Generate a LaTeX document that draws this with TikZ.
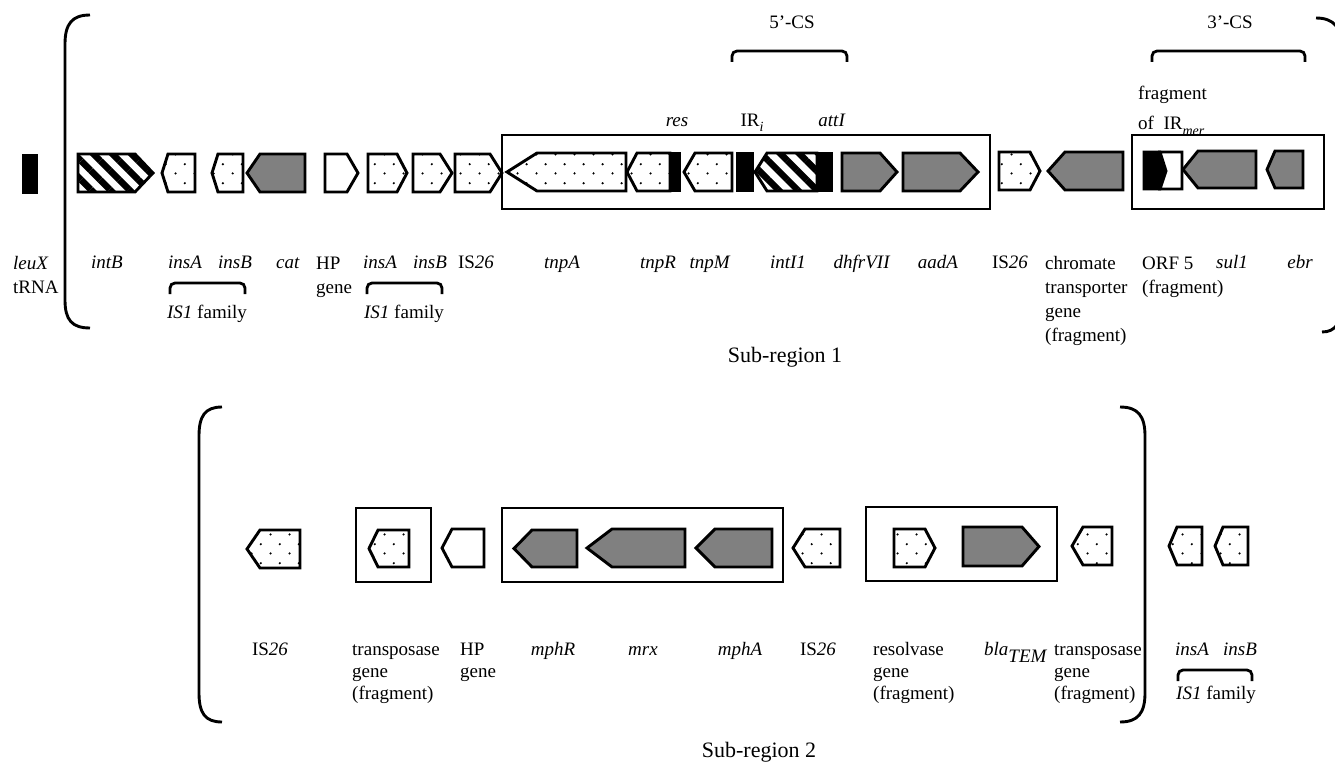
\documentclass[tikz,border=0pt]{standalone}
\usepackage{fontspec}
\setmainfont{Liberation Serif}
\usepackage{tikz}
\usetikzlibrary{patterns, patterns.meta}

\definecolor{genegray}{RGB}{128,128,128}

\tikzdeclarepattern{
  name=sparsedots,
  type=uncolored,
  bounding box={(0pt,0pt) and (19pt,19pt)},
  tile size={(19pt,19pt)},
  code={
    \fill (4.75pt,4.75pt) circle (1.25pt);
    \fill (14.25pt,14.25pt) circle (1.25pt);
  }
}

% gene arrows: style, left/tip, tip start, right/tip, top, bottom
\newcommand{\genR}[6]{\draw[#1] (#2,#5) -- (#3,#5) -- (#4,{(#5+#6)/2}) -- (#3,#6) -- (#2,#6) -- cycle;}
\newcommand{\genL}[6]{\draw[#1] (#2,{(#5+#6)/2}) -- (#3,#5) -- (#4,#5) -- (#4,#6) -- (#3,#6) -- cycle;}
\newcommand{\smallbrace}[3]{\draw[braceline] (#1,{#3+11}) -- (#1,#3) -- (#2,#3) -- (#2,{#3+11});}

\begin{document}
\begin{tikzpicture}[
    x=1pt, y=-1pt,
    lbl/.style={font=\fontsize{19}{24}\selectfont, inner sep=0pt, anchor=base},
    lblb/.style={font=\fontsize{19}{22}\selectfont, inner sep=0pt, anchor=base},
    sublbl/.style={font=\fontsize{22}{26}\selectfont, inner sep=0pt, anchor=base},
    genebase/.style={draw, line width=2.9pt, line join=miter},
    dotgene/.style={genebase, pattern=sparsedots},
    hatchgene/.style={genebase, pattern={Lines[angle=-45, distance=13.5pt, line width=6.5pt]}},
    graygene/.style={genebase, fill=genegray},
    whitegene/.style={genebase, fill=white},
    barblack/.style={genebase, fill=black},
    genebox/.style={draw, line width=2.8pt},
    braceline/.style={draw, line width=2.8pt, rounded corners=5pt},
    bigbracket/.style={draw, line width=2.9pt}
]

\fill[white] (0,0) rectangle (1335,767);
\useasboundingbox (0,0) rectangle (1335,767);

% Sub-region 1: brackets
\draw[bigbracket] (90,15) .. controls (72,15) and (65,24) .. (65,44) -- (65,300) .. controls (65,320) and (72,328) .. (90,328);
\draw[bigbracket] (1316,18) .. controls (1334,18) and (1342,28) .. (1342,48) -- (1342,302) .. controls (1342,322) and (1336,332) .. (1322,332);

% Sub-region 1: boxes
\draw[genebox] (502,135) rectangle (990,209);
\draw[genebox] (1132,135) rectangle (1324,209);

% Sub-region 1: genes
\draw[barblack] (23,155) rectangle (37,193);
\genR{hatchgene}{78}{135}{153}{154}{192}
\genL{dotgene}{162}{168}{195}{154}{192}
\genL{dotgene}{212}{218}{243}{154}{192}
\genL{graygene}{247}{260}{305}{154}{192}
\genR{whitegene}{325}{347}{358}{154}{192}
\genR{dotgene}{368}{397}{407}{154}{192}
\genR{dotgene}{413}{440}{452}{154}{192}
\genR{dotgene}{455}{490}{502}{154}{192}
\genL{dotgene}{507}{537}{626}{153}{191}
\genL{dotgene}{627}{637}{670}{153}{191}
\draw[barblack] (670,153) rectangle (680,191);
\genL{dotgene}{684}{695}{732}{153}{191}
\draw[barblack] (737,153) rectangle (753,191);
\genL{hatchgene}{755}{767}{817}{153}{191}
\draw[barblack] (817,153) rectangle (832,191);
\genR{graygene}{842}{880}{897}{153}{191}
\genR{graygene}{903}{960}{978}{153}{191}
\genR{dotgene}{999}{1030}{1040}{152}{190}
\genL{graygene}{1048}{1065}{1123}{152}{190}
\draw[barblack] (1144,152) -- (1160,152) -- (1166,171) -- (1160,189) -- (1144,189) -- cycle;
\draw[whitegene] (1160,152) -- (1182,152) -- (1182,189) -- (1160,189) -- (1166,171) -- cycle;
\genL{graygene}{1183}{1198}{1256}{151}{188}
\genL{graygene}{1267}{1275}{1303}{151}{188}

% Sub-region 1: braces
\smallbrace{170}{245}{283}
\smallbrace{367}{442}{283}
\smallbrace{732}{847}{51}
\smallbrace{1152}{1305}{51}

% Sub-region 1: labels (multi-line ones sit on their last line)
\node[lbl, anchor=base west, align=left] (leux) at (13,293) {\textit{leuX}\\tRNA};
\node[lbl] (intb) at (107,269) {\textit{intB}};
\node[lbl] (insa1) at (185,269) {\textit{insA}};
\node[lbl] (insb1) at (235,269) {\textit{insB}};
\node[lbl] (cat) at (288,269) {\textit{cat}};
\node[lbl, anchor=base west, align=left] (hp1) at (316,293) {HP\\gene};
\node[lbl] (insa2) at (380,269) {\textit{insA}};
\node[lbl] (insb2) at (430,269) {\textit{insB}};
\node[lbl] (isa) at (476,269) {IS\textit{26}};
\node[lbl] (tnpa) at (562,269) {\textit{tnpA}};
\node[lbl] (tnpr) at (658,269) {\textit{tnpR}};
\node[lbl] (tnpm) at (710,269) {\textit{tnpM}};
\node[lbl] (inti) at (788,269) {\textit{intI1}};
\node[lbl] (dhfr) at (862,269) {\textit{dhfrVII}};
\node[lbl] (aada) at (938,269) {\textit{aadA}};
\node[lbl] (isb) at (1010,269) {IS\textit{26}};
\node[lbl, anchor=base west, align=left] (chrom) at (1045,341) {chromate\\transporter\\gene\\(fragment)};
\node[lbl, anchor=base west, align=left] (orf) at (1142,293) {ORF 5\\(fragment)};
\node[lbl] (sul) at (1232,269) {\textit{sul1}};
\node[lbl] (ebr) at (1300,269) {\textit{ebr}};
\node[lbl] (fam1) at (207,318) {\textit{IS1} family};
\node[lbl] (fam2) at (404,318) {\textit{IS1} family};
\node[lbl] (res) at (677,127) {\textit{res}};
\node[lbl] (iri) at (752,127) {IR\raisebox{-5pt}{\fontsize{14}{14}\selectfont\itshape i}};
\node[lbl] (att) at (832,127) {\textit{attI}};
\node[lbl, anchor=base west, align=left] (frag) at (1138,130) {fragment\\[6pt]of\ \ IR\raisebox{-6pt}{\fontsize{14}{14}\selectfont\itshape mer}};
\node[lbl] (cs5) at (792,29) {5’-CS};
\node[lbl] (cs3) at (1230,29) {3’-CS};
\node[sublbl] (sub1) at (785,362) {Sub-region 1};

% Sub-region 2: brackets
\draw[bigbracket] (222,407) .. controls (205,407) and (199,416) .. (199,436) -- (199,693) .. controls (199,713) and (205,722) .. (222,722);
\draw[bigbracket] (1120,407) .. controls (1138,407) and (1145,416) .. (1145,436) -- (1145,693) .. controls (1145,713) and (1138,722) .. (1120,722);

% Sub-region 2: boxes
\draw[genebox] (356,508) rectangle (431,582);
\draw[genebox] (502,508) rectangle (783,582);
\draw[genebox] (866,507) rectangle (1057,581);

% Sub-region 2: genes
\genL{dotgene}{247}{260}{300}{530}{568}
\genL{dotgene}{369}{378}{409}{530}{567}
\genL{whitegene}{442}{452}{484}{529}{567}
\genL{graygene}{514}{532}{577}{530}{567}
\genL{graygene}{587}{612}{685}{529}{567}
\genL{graygene}{696}{715}{772}{529}{567}
\genL{dotgene}{793}{805}{840}{529}{567}
\genR{dotgene}{894}{925}{935}{529}{567}
\genR{graygene}{963}{1022}{1039}{527}{566}
\genL{dotgene}{1072}{1083}{1112}{527}{565}
\genL{dotgene}{1169}{1177}{1202}{527}{565}
\genL{dotgene}{1215}{1223}{1248}{527}{565}

% Sub-region 2: brace
\smallbrace{1178}{1252}{670}

% Sub-region 2: labels
\node[lblb] (isc) at (270,655) {IS\textit{26}};
\node[lblb, anchor=base west, align=left] (tp1) at (352,699) {transposase\\gene\\(fragment)};
\node[lblb, anchor=base west, align=left] (hp2) at (460,677) {HP\\gene};
\node[lblb] (mphr) at (553,655) {\textit{mphR}};
\node[lblb] (mrx) at (643,655) {\textit{mrx}};
\node[lblb] (mpha) at (740,655) {\textit{mphA}};
\node[lblb] (isd) at (818,655) {IS\textit{26}};
\node[lblb, anchor=base west, align=left] (res2) at (873,699) {resolvase\\gene\\(fragment)};
\node[lblb, anchor=base west] (bla) at (984,655) {\textit{bla}\raisebox{-7pt}{\itshape TEM}};
\node[lblb, anchor=base west, align=left] (tp2) at (1054,699) {transposase\\gene\\(fragment)};
\node[lblb] (insa3) at (1192,655) {\textit{insA}};
\node[lblb] (insb3) at (1240,655) {\textit{insB}};
\node[lblb] (fam3) at (1216,699) {\textit{IS1} family};
\node[sublbl] (sub2) at (759,757) {Sub-region 2};

\end{tikzpicture}
\end{document}
